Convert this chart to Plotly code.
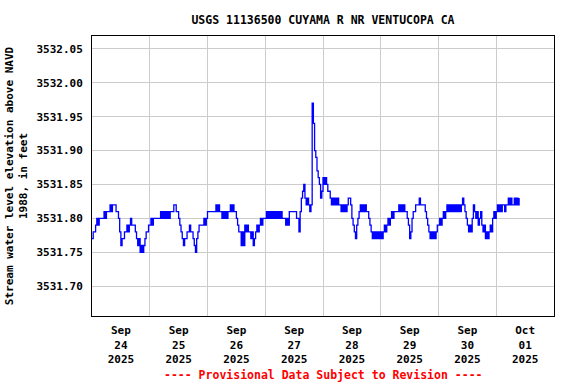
import pandas as pd
import plotly.graph_objects as go

# Half-hourly stage readings (ft, NAVD 1988) starting 2025-09-24 00:00
day_sep24 = [3531.77, 3531.78, 3531.78, 3531.79, 3531.80, 3531.79, 3531.80, 3531.80, 3531.80, 3531.80, 3531.81, 3531.80,
             3531.81, 3531.81, 3531.81, 3531.82, 3531.81, 3531.82, 3531.82, 3531.82, 3531.81, 3531.81, 3531.80, 3531.78,
             3531.76, 3531.77, 3531.77, 3531.78, 3531.78, 3531.79, 3531.78, 3531.79, 3531.80, 3531.79, 3531.79, 3531.79,
             3531.78, 3531.77, 3531.76, 3531.77, 3531.75, 3531.76, 3531.75, 3531.76, 3531.77, 3531.78, 3531.78, 3531.79]
day_sep25 = [3531.79, 3531.80, 3531.79, 3531.80, 3531.80, 3531.80, 3531.80, 3531.80, 3531.80, 3531.81, 3531.80, 3531.81,
             3531.80, 3531.81, 3531.80, 3531.81, 3531.80, 3531.81, 3531.81, 3531.81, 3531.82, 3531.82, 3531.81, 3531.81,
             3531.80, 3531.79, 3531.78, 3531.77, 3531.76, 3531.77, 3531.77, 3531.78, 3531.78, 3531.79, 3531.78, 3531.78,
             3531.77, 3531.76, 3531.75, 3531.77, 3531.78, 3531.79, 3531.79, 3531.79, 3531.79, 3531.80, 3531.79, 3531.80]
day_sep26 = [3531.81, 3531.81, 3531.81, 3531.81, 3531.81, 3531.81, 3531.81, 3531.82, 3531.81, 3531.82, 3531.81, 3531.81,
             3531.80, 3531.81, 3531.80, 3531.81, 3531.80, 3531.81, 3531.81, 3531.82, 3531.81, 3531.82, 3531.81, 3531.81,
             3531.80, 3531.79, 3531.78, 3531.78, 3531.76, 3531.78, 3531.76, 3531.79, 3531.78, 3531.79, 3531.78, 3531.78,
             3531.77, 3531.78, 3531.76, 3531.77, 3531.78, 3531.79, 3531.78, 3531.79, 3531.80, 3531.79, 3531.80, 3531.80]
day_sep27 = [3531.80, 3531.81, 3531.80, 3531.81, 3531.80, 3531.81, 3531.80, 3531.81, 3531.80, 3531.81, 3531.80, 3531.81,
             3531.80, 3531.81, 3531.80, 3531.80, 3531.80, 3531.79, 3531.80, 3531.79, 3531.81, 3531.81, 3531.81, 3531.81,
             3531.81, 3531.81, 3531.80, 3531.80, 3531.78, 3531.81, 3531.83, 3531.84, 3531.85, 3531.83, 3531.82, 3531.83,
             3531.82, 3531.81, 3531.82, 3531.97, 3531.94, 3531.90, 3531.89, 3531.87, 3531.86, 3531.85, 3531.83, 3531.84]
day_sep28 = [3531.86, 3531.85, 3531.86, 3531.85, 3531.84, 3531.84, 3531.83, 3531.82, 3531.83, 3531.82, 3531.83, 3531.82,
             3531.83, 3531.82, 3531.82, 3531.81, 3531.82, 3531.81, 3531.82, 3531.81, 3531.82, 3531.83, 3531.83, 3531.82,
             3531.80, 3531.79, 3531.78, 3531.77, 3531.79, 3531.80, 3531.81, 3531.82, 3531.81, 3531.82, 3531.81, 3531.82,
             3531.81, 3531.81, 3531.80, 3531.79, 3531.78, 3531.77, 3531.78, 3531.77, 3531.78, 3531.77, 3531.78, 3531.77]
day_sep29 = [3531.78, 3531.77, 3531.78, 3531.79, 3531.78, 3531.79, 3531.80, 3531.79, 3531.80, 3531.81, 3531.80, 3531.81,
             3531.81, 3531.81, 3531.81, 3531.82, 3531.81, 3531.82, 3531.81, 3531.82, 3531.81, 3531.81, 3531.80, 3531.79,
             3531.77, 3531.78, 3531.80, 3531.81, 3531.81, 3531.82, 3531.82, 3531.82, 3531.83, 3531.82, 3531.82, 3531.82,
             3531.82, 3531.81, 3531.80, 3531.79, 3531.78, 3531.77, 3531.78, 3531.77, 3531.78, 3531.77, 3531.78, 3531.79]
day_sep30 = [3531.79, 3531.80, 3531.79, 3531.80, 3531.81, 3531.80, 3531.81, 3531.82, 3531.81, 3531.82, 3531.81, 3531.82,
             3531.81, 3531.82, 3531.81, 3531.82, 3531.81, 3531.82, 3531.81, 3531.82, 3531.83, 3531.82, 3531.81, 3531.80,
             3531.79, 3531.78, 3531.79, 3531.78, 3531.80, 3531.82, 3531.81, 3531.80, 3531.81, 3531.79, 3531.80, 3531.81,
             3531.79, 3531.78, 3531.79, 3531.77, 3531.78, 3531.77, 3531.78, 3531.79, 3531.78, 3531.80, 3531.81, 3531.80]
day_oct01 = [3531.81, 3531.82, 3531.81, 3531.82, 3531.81, 3531.82, 3531.82, 3531.81, 3531.82, 3531.82, 3531.83, 3531.82,
             3531.83, 3531.82, 3531.82, 3531.83, 3531.82, 3531.83, 3531.82, 3531.83]

tick_days = ["2025-09-24", "2025-09-25", "2025-09-26", "2025-09-27",
             "2025-09-28", "2025-09-29", "2025-09-30", "2025-10-01"]
tick_text = ["Sep<br>24<br>2025", "Sep<br>25<br>2025", "Sep<br>26<br>2025", "Sep<br>27<br>2025",
             "Sep<br>28<br>2025", "Sep<br>29<br>2025", "Sep<br>30<br>2025", "Oct<br>01<br>2025"]
y_ticks = [3531.70, 3531.75, 3531.80, 3531.85, 3531.90, 3531.95, 3532.00, 3532.05]

stage = day_sep24 + day_sep25 + day_sep26 + day_sep27 + day_sep28 + day_sep29 + day_sep30 + day_oct01
times = pd.date_range("2025-09-24 00:00", periods=len(stage), freq="30min")
tick_noon = [pd.Timestamp(d) + pd.Timedelta(hours=12) for d in tick_days]

FONT = "DejaVu Sans Mono"

fig = go.Figure()
fig.add_trace(go.Scatter(x=times, y=stage, mode="lines",
                         line=dict(color="#0000FF", width=1.3, shape="hv"),
                         showlegend=False, hoverinfo="skip"))

fig.update_layout(
    width=576, height=384,
    margin=dict(l=92, r=22, t=36, b=68, autoexpand=False),
    paper_bgcolor="white", plot_bgcolor="white",
    font=dict(family=FONT, size=11, color="black", weight="bold"),
    title=dict(text="USGS 11136500 CUYAMA R NR VENTUCOPA CA",
               x=0.5, xref="paper", xanchor="center",
               y=1 - 20 / 384, yref="container", yanchor="middle",
               font=dict(family=FONT, size=11.5, color="black", weight="bold")),
    xaxis=dict(
        automargin=False,
        range=["2025-09-24 00:00", "2025-10-02 00:00"],
        tickmode="array", tickvals=tick_noon, ticktext=tick_text,
        showgrid=False, ticks="", ticklabelstandoff=4,
        tickfont=dict(family=FONT, size=11, color="black", weight="bold"),
        showline=True, linecolor="black", linewidth=1, mirror=True,
        minor=dict(showgrid=True, dtick=86400000, tick0="2025-09-24",
                   gridcolor="#cccccc", gridwidth=1, ticks=""),
        zeroline=False,
    ),
    yaxis=dict(
        automargin=False,
        range=[3531.656, 3532.069],
        tickmode="array", tickvals=y_ticks, tickformat=".2f",
        showgrid=True, gridcolor="#cccccc", gridwidth=1,
        ticks="", ticklabelstandoff=6,
        tickfont=dict(family=FONT, size=11, color="black", weight="bold"),
        showline=True, linecolor="black", linewidth=1, mirror=True,
        zeroline=False,
        title=dict(text="Stream water level elevation above NAVD<br>1988, in feet",
                   standoff=6,
                   font=dict(family=FONT, size=11, color="black", weight="bold")),
    ),
)

fig.add_annotation(text="---- Provisional Data Subject to Revision ----",
                   x=0.5, xref="paper", xanchor="center",
                   y=(316 - 375) / 280, yref="paper", yanchor="middle",
                   showarrow=False,
                   font=dict(family=FONT, size=11.5, color="#FF0000", weight="bold"))

fig.write_html("out.html",
               config={"displayModeBar": False, "staticPlot": True},
               post_script="document.body.style.margin='0';document.body.style.padding='0';")
